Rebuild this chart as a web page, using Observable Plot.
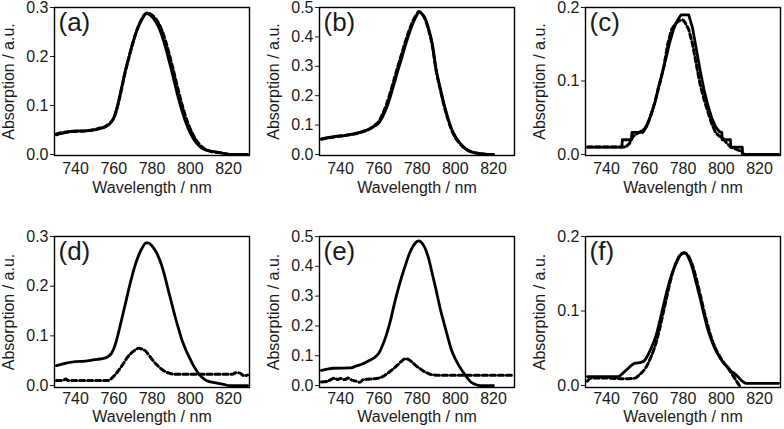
<!DOCTYPE html>
<html>
<head>
<meta charset="utf-8">
<script src="https://cdn.jsdelivr.net/npm/d3@7"></script>
<script src="https://cdn.jsdelivr.net/npm/@observablehq/plot@0.6"></script>
<style>
  html, body { margin: 0; padding: 0; background: #fff; overflow: hidden; }
  #root { position: relative; width: 784px; height: 429px; overflow: hidden; }
  #root svg { position: absolute; overflow: visible; }
</style>
</head>
<body>
<div id="root"></div>
<script>
// ---------- data ----------
const xTicks = [740, 760, 780, 800, 820];
const yTicks03 = [0, 0.1, 0.2, 0.3];
const yTicks05 = [0, 0.1, 0.2, 0.3, 0.4, 0.5];
const yTicks02 = [0, 0.1, 0.2];
const xLabel = "Wavelength / nm";
const yLabel = "Absorption / a.u.";
const letters = ["(a)", "(b)", "(c)", "(d)", "(e)", "(f)"];

// (a)
const aSolidX = [730,735,740,745,750,753,756,758,760,762,764,766,768,770,772,774,776,777,778,780,782,784,786,788,790,792,794,796,798,800,802,804,806,808,810,814,818,820,825,830];
const aSolidY = [0.040,0.045,0.048,0.048,0.050,0.053,0.057,0.063,0.075,0.100,0.135,0.170,0.200,0.228,0.252,0.270,0.284,0.288,0.287,0.281,0.271,0.255,0.233,0.205,0.175,0.143,0.112,0.085,0.062,0.044,0.030,0.020,0.013,0.009,0.007,0.005,0.002,0.000,0.000,0.000];
const aDashX = [730,735,740,745,750,753,756,758,760,762,764,766,768,770,772,774,776,777.5,779,781,783,785,787,789,791,793,795,797,799,801,803,805,807,809,811,815,819,821];
const aDashY = [0.042,0.046,0.047,0.048,0.051,0.054,0.058,0.064,0.074,0.098,0.132,0.168,0.199,0.228,0.253,0.272,0.285,0.289,0.287,0.281,0.271,0.255,0.233,0.205,0.175,0.143,0.112,0.085,0.062,0.044,0.030,0.020,0.013,0.009,0.006,0.004,0.001,0.000];

// (b)
const bSolidX = [730,734,738,742,746,750,753,756,758,760,762,764,766,768,770,772,774,776,778,780,781,782,784,786,788,790,792,794,796,798,800,802,804,806,808,810,812,815,818,820];
const bSolidY = [0.053,0.058,0.062,0.064,0.069,0.075,0.081,0.089,0.097,0.107,0.128,0.157,0.195,0.240,0.285,0.328,0.373,0.413,0.448,0.475,0.485,0.482,0.466,0.430,0.377,0.290,0.230,0.175,0.128,0.088,0.062,0.043,0.028,0.017,0.010,0.006,0.004,0.002,0.000,0.000];
const bDashX = [730,734,738,742,746,750,753,756,758,760,762,764,766,768,770,772,774,776,778,780,781,782,784,786,788,790,792,794,796,798,800,802,804,806,808,810,812,815,818,820];
const bDashY = [0.052,0.057,0.061,0.064,0.068,0.074,0.080,0.090,0.100,0.112,0.138,0.170,0.210,0.255,0.300,0.343,0.386,0.424,0.456,0.478,0.486,0.482,0.463,0.425,0.370,0.285,0.226,0.170,0.123,0.085,0.058,0.040,0.026,0.016,0.010,0.006,0.004,0.001,0.000,0.000];

// (c)
const cSolidX = [730,748,748.3,753,753.3,759,761,763,765.5,767,769,771,773,775,777,779,783,785,787,789,791,793,795,797,799,800.3,800.5,804.8,805,811,811.2,830];
const cSolidY = [0.010,0.010,0.020,0.020,0.030,0.030,0.038,0.052,0.072,0.090,0.109,0.130,0.152,0.170,0.182,0.190,0.190,0.172,0.143,0.114,0.088,0.067,0.050,0.038,0.031,0.030,0.020,0.020,0.010,0.010,0.000,0.000];
const cDashX = [730,750,752,754,757,760,762,764,766,768,770,772,774,776,778,780,781,783,785,787,789,791,793,795,797,799,801,803,805,807,810,812];
const cDashY = [0.010,0.010,0.015,0.025,0.030,0.035,0.045,0.060,0.078,0.098,0.120,0.150,0.170,0.178,0.182,0.183,0.180,0.170,0.150,0.122,0.095,0.075,0.058,0.042,0.030,0.025,0.022,0.015,0.010,0.008,0.005,0.000];

// (d)
const dSolidX = [730,735,740,745,750,754,757,759,761,763,765,767,769,771,773,775,777,778,780,782,784,786,788,790,792,794,796,798,800,802,804,806,808,810,814,818,820,830];
const dSolidY = [0.040,0.045,0.048,0.049,0.052,0.054,0.058,0.066,0.085,0.115,0.147,0.180,0.212,0.240,0.262,0.278,0.287,0.287,0.281,0.270,0.253,0.230,0.200,0.170,0.140,0.113,0.088,0.069,0.053,0.038,0.026,0.017,0.011,0.008,0.005,0.002,0.000,0.000];
const dDashX = [730,733,735,736,757,759,761,763,765,767,769,771,773,775,777,779,781,783,785,787,789,791,822,824,826,828,830];
const dDashY = [0.010,0.010,0.013,0.010,0.010,0.015,0.023,0.033,0.044,0.056,0.065,0.071,0.075,0.073,0.068,0.058,0.048,0.040,0.033,0.028,0.025,0.023,0.023,0.026,0.025,0.020,0.021];

// (e)
const eSolidX = [730,733,736,745,748,752,755,758,760,762,764,766,768,770,772,774,776,778,780,781,782,784,786,788,790,792,794,796,798,800,802,804,806,808,810,812,814,820];
const eSolidY = [0.051,0.055,0.058,0.059,0.065,0.074,0.084,0.095,0.108,0.135,0.170,0.215,0.270,0.320,0.365,0.405,0.442,0.468,0.483,0.485,0.482,0.464,0.428,0.375,0.320,0.262,0.212,0.165,0.120,0.090,0.066,0.046,0.028,0.013,0.005,0.001,0.000,0.000];
const eDashX = [730,733,735,737,738.5,740,742,744,746,748,750,752,756,760,762,764,766,768,770,772,774,776,778,780,782,784,786,788,790,830];
const eDashY = [0.012,0.014,0.020,0.025,0.020,0.024,0.020,0.025,0.018,0.015,0.011,0.020,0.022,0.025,0.030,0.038,0.048,0.058,0.070,0.082,0.090,0.086,0.075,0.064,0.055,0.046,0.040,0.036,0.035,0.035];

// (f)
const fSolidX = [730,746,750,755,758,760,762,764,766,768,770,772,774,776,778,780,781,783,785,787,789,791,793,795,797,799,801,803,805,807,809,811,813,815,830];
const fSolidY = [0.012,0.012,0.020,0.030,0.031,0.034,0.043,0.054,0.068,0.088,0.110,0.131,0.148,0.162,0.173,0.178,0.178,0.171,0.157,0.137,0.117,0.095,0.075,0.060,0.048,0.039,0.031,0.026,0.020,0.016,0.011,0.006,0.003,0.003,0.003];
const fDashX = [730,732,740,750,755,757,759,761,763,765,767,769,771,773,775,777,779,781,783,785,787,789,791,793,795,797,799,801,803,805,807,808.5,810];
const fDashY = [0.006,0.010,0.010,0.009,0.010,0.014,0.019,0.026,0.037,0.050,0.068,0.090,0.113,0.136,0.155,0.168,0.176,0.178,0.173,0.161,0.143,0.122,0.100,0.080,0.063,0.050,0.040,0.032,0.025,0.018,0.010,0.004,-0.002];

// ---------- layout ----------
const zip = (xs, ys) => xs.map((x, i) => ({x, y: ys[i]}));
const cols = [
  {left: 0,   width: 262, mL: 54, mR: 13},
  {left: 262, width: 262, mL: 57, mR: 10},
  {left: 522, width: 262, mL: 63, mR: 4}
];
const rows = [
  {top: 0,   height: 200, mT: 7, mB: 45, pad: 0.007, tp: 7, lo: 37},
  {top: 231, height: 198, mT: 5, mB: 42, pad: 0.013, tp: 5, lo: 34}
];
const panels = [
  {r: 0, c: 0, solid: zip(aSolidX, aSolidY), dash: zip(aDashX, aDashY), yMax: 0.3, yTicks: yTicks03, curve: "monotone-x"},
  {r: 0, c: 1, solid: zip(bSolidX, bSolidY), dash: zip(bDashX, bDashY), yMax: 0.5, yTicks: yTicks05, curve: "monotone-x"},
  {r: 0, c: 2, solid: zip(cSolidX, cSolidY), dash: zip(cDashX, cDashY), yMax: 0.2, yTicks: yTicks02, curve: "linear"},
  {r: 1, c: 0, solid: zip(dSolidX, dSolidY), dash: zip(dDashX, dDashY), yMax: 0.3, yTicks: yTicks03, curve: "monotone-x"},
  {r: 1, c: 1, solid: zip(eSolidX, eSolidY), dash: zip(eDashX, eDashY), yMax: 0.5, yTicks: yTicks05, curve: "monotone-x"},
  {r: 1, c: 2, solid: zip(fSolidX, fSolidY), dash: zip(fDashX, fDashY), yMax: 0.2, yTicks: yTicks02, curve: "monotone-x"}
];

const root = document.getElementById("root");
const font = "'Liberation Sans', Arial, Helvetica, sans-serif";
const ink = "#1a1a1a";

panels.forEach((p, i) => {
  const col = cols[p.c], row = rows[p.r];
  const chart = Plot.plot({
    width: col.width,
    height: row.height,
    marginLeft: col.mL,
    marginRight: col.mR,
    marginTop: row.mT,
    marginBottom: row.mB,
    style: {fontFamily: font, fontSize: "16px", color: ink, background: "transparent", overflow: "visible"},
    x: {domain: [729, 831]},
    y: {domain: [-p.yMax * row.pad, p.yMax]},
    marks: [
      Plot.axisX({ticks: xTicks, tickSize: 0, tickPadding: row.tp, tickFormat: d3.format("d"),
        label: xLabel, labelAnchor: "center", labelArrow: "none", labelOffset: row.lo, fontSize: 16}),
      Plot.axisY({ticks: p.yTicks, tickSize: 4, tickPadding: 2, tickFormat: d3.format(".1f"),
        label: yLabel, labelAnchor: "center", labelArrow: "none", labelOffset: 52, fontSize: 16}),
      Plot.line(p.dash, {x: "x", y: "y", stroke: "black", strokeWidth: 3, strokeDasharray: "5,3", curve: p.curve}),
      Plot.line(p.solid, {x: "x", y: "y", stroke: "black", strokeWidth: 2.8, curve: p.curve}),
      Plot.frame({stroke: "black", strokeWidth: 1.4}),
      Plot.text([letters[i]], {text: d => d, frameAnchor: "top-left", dx: 4, dy: 5,
        lineAnchor: "top", textAnchor: "start", fontSize: 26, fill: ink})
    ]
  });
  chart.style.left = col.left + "px";
  chart.style.top = row.top + "px";
  root.appendChild(chart);
});
</script>
</body>
</html>
